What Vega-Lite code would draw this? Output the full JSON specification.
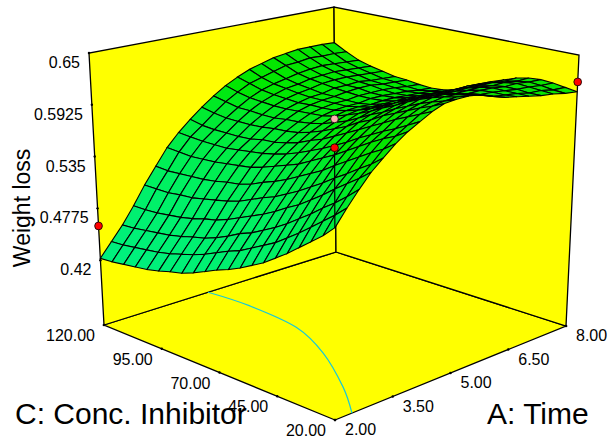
{"$schema":"https://vega.github.io/schema/vega-lite/v6.json","width":609,"height":441,"autosize":{"type":"fit","contains":"padding"},"padding":0,"background":"white","config":{"view":{"stroke":null}},
"data":{"values":[
{"kind":"wall","p":"a","o":0,"t":2,"c":20,"w":0.348},{"kind":"wall","p":"a","o":1,"t":2,"c":120,"w":0.348},{"kind":"wall","p":"a","o":2,"t":8,"c":120,"w":0.348},{"kind":"wall","p":"a","o":3,"t":8,"c":20,"w":0.348},{"kind":"wall","p":"a","o":4,"t":2,"c":20,"w":0.348},
{"kind":"wall","p":"b","o":0,"t":2,"c":120,"w":0.348},{"kind":"wall","p":"b","o":1,"t":8,"c":120,"w":0.348},{"kind":"wall","p":"b","o":2,"t":8,"c":120,"w":0.65},{"kind":"wall","p":"b","o":3,"t":2,"c":120,"w":0.65},{"kind":"wall","p":"b","o":4,"t":2,"c":120,"w":0.348},
{"kind":"wall","p":"c","o":0,"t":8,"c":120,"w":0.348},{"kind":"wall","p":"c","o":1,"t":8,"c":20,"w":0.348},{"kind":"wall","p":"c","o":2,"t":8,"c":20,"w":0.65},{"kind":"wall","p":"c","o":3,"t":8,"c":120,"w":0.65},{"kind":"wall","p":"c","o":4,"t":8,"c":120,"w":0.348},
{"kind":"contour","t":4.69,"c":120,"w":0.348},{"kind":"contour","t":4.76,"c":103,"w":0.348},{"kind":"contour","t":4.61,"c":80.4,"w":0.348},{"kind":"contour","t":4.06,"c":59.5,"w":0.348},{"kind":"contour","t":3.17,"c":36,"w":0.348},{"kind":"contour","t":2.44,"c":20,"w":0.348},
{"kind":"conc","t":2,"c":120,"w":0.348,"label":"120.00"},{"kind":"conc","t":2,"c":95,"w":0.348,"label":"95.00"},{"kind":"conc","t":2,"c":70,"w":0.348,"label":"70.00"},{"kind":"conc","t":2,"c":45,"w":0.348,"label":"45.00"},{"kind":"conc","t":2,"c":20,"w":0.348,"label":"20.00"},
{"kind":"time","t":2,"c":20,"w":0.348,"label":"2.00"},{"kind":"time","t":3.5,"c":20,"w":0.348,"label":"3.50"},{"kind":"time","t":5,"c":20,"w":0.348,"label":"5.00"},{"kind":"time","t":6.5,"c":20,"w":0.348,"label":"6.50"},{"kind":"time","t":8,"c":20,"w":0.348,"label":"8.00"},
{"kind":"loss","t":2,"c":120,"w":0.42,"label":"0.42"},{"kind":"loss","t":2,"c":120,"w":0.4775,"label":"0.4775"},{"kind":"loss","t":2,"c":120,"w":0.535,"label":"0.535"},{"kind":"loss","t":2,"c":120,"w":0.5925,"label":"0.5925"},{"kind":"loss","t":2,"c":120,"w":0.65,"label":"0.65"},
{"kind":"stem","t":5,"c":70,"w":0.551},{"kind":"stem","t":5,"c":70,"w":0.462},
{"kind":"design","tone":"low","t":5,"c":70,"w":0.551},{"kind":"design","tone":"high","t":5,"c":70,"w":0.583},{"kind":"design","tone":"low","t":2,"c":120,"w":0.458},{"kind":"design","tone":"low","t":8,"c":20,"w":0.62},
{"kind":"titlec","t":2,"c":120,"w":0.348,"label":"C: Conc. Inhibitor"},{"kind":"titlet","t":8,"c":20,"w":0.348,"label":"A: Time"},{"kind":"titlew","t":2,"c":120,"w":0.478,"label":"Weight loss"},
{"t":8,"c":120,"w":0.606},{"t":8,"c":115,"w":0.598},{"t":8,"c":110,"w":0.591},{"t":8,"c":105,"w":0.587},{"t":8,"c":100,"w":0.584},{"t":8,"c":95,"w":0.581},{"t":8,"c":90,"w":0.58},{"t":8,"c":85,"w":0.578},{"t":8,"c":80,"w":0.577},{"t":8,"c":75,"w":0.578},{"t":8,"c":70,"w":0.581},{"t":8,"c":65,"w":0.586},{"t":8,"c":60,"w":0.593},{"t":8,"c":55,"w":0.6},{"t":8,"c":50,"w":0.605},{"t":8,"c":45,"w":0.61},{"t":8,"c":40,"w":0.613},{"t":8,"c":35,"w":0.614},{"t":8,"c":30,"w":0.613},{"t":8,"c":25,"w":0.611},{"t":8,"c":20,"w":0.609},
{"t":7.7,"c":120,"w":0.607},{"t":7.7,"c":115,"w":0.599},{"t":7.7,"c":110,"w":0.592},{"t":7.7,"c":105,"w":0.588},{"t":7.7,"c":100,"w":0.585},{"t":7.7,"c":95,"w":0.582},{"t":7.7,"c":90,"w":0.581},{"t":7.7,"c":85,"w":0.579},{"t":7.7,"c":80,"w":0.578},{"t":7.7,"c":75,"w":0.58},{"t":7.7,"c":70,"w":0.582},{"t":7.7,"c":65,"w":0.587},{"t":7.7,"c":60,"w":0.594},{"t":7.7,"c":55,"w":0.601},{"t":7.7,"c":50,"w":0.605},{"t":7.7,"c":45,"w":0.61},{"t":7.7,"c":40,"w":0.613},{"t":7.7,"c":35,"w":0.615},{"t":7.7,"c":30,"w":0.614},{"t":7.7,"c":25,"w":0.612},{"t":7.7,"c":20,"w":0.611},
{"t":7.4,"c":120,"w":0.607},{"t":7.4,"c":115,"w":0.599},{"t":7.4,"c":110,"w":0.593},{"t":7.4,"c":105,"w":0.589},{"t":7.4,"c":100,"w":0.586},{"t":7.4,"c":95,"w":0.583},{"t":7.4,"c":90,"w":0.582},{"t":7.4,"c":85,"w":0.581},{"t":7.4,"c":80,"w":0.58},{"t":7.4,"c":75,"w":0.581},{"t":7.4,"c":70,"w":0.584},{"t":7.4,"c":65,"w":0.589},{"t":7.4,"c":60,"w":0.595},{"t":7.4,"c":55,"w":0.602},{"t":7.4,"c":50,"w":0.607},{"t":7.4,"c":45,"w":0.612},{"t":7.4,"c":40,"w":0.615},{"t":7.4,"c":35,"w":0.617},{"t":7.4,"c":30,"w":0.616},{"t":7.4,"c":25,"w":0.615},{"t":7.4,"c":20,"w":0.614},
{"t":7.1,"c":120,"w":0.607},{"t":7.1,"c":115,"w":0.6},{"t":7.1,"c":110,"w":0.594},{"t":7.1,"c":105,"w":0.59},{"t":7.1,"c":100,"w":0.587},{"t":7.1,"c":95,"w":0.585},{"t":7.1,"c":90,"w":0.584},{"t":7.1,"c":85,"w":0.582},{"t":7.1,"c":80,"w":0.581},{"t":7.1,"c":75,"w":0.582},{"t":7.1,"c":70,"w":0.585},{"t":7.1,"c":65,"w":0.59},{"t":7.1,"c":60,"w":0.596},{"t":7.1,"c":55,"w":0.602},{"t":7.1,"c":50,"w":0.607},{"t":7.1,"c":45,"w":0.612},{"t":7.1,"c":40,"w":0.615},{"t":7.1,"c":35,"w":0.617},{"t":7.1,"c":30,"w":0.617},{"t":7.1,"c":25,"w":0.616},{"t":7.1,"c":20,"w":0.616},
{"t":6.8,"c":120,"w":0.605},{"t":6.8,"c":115,"w":0.598},{"t":6.8,"c":110,"w":0.593},{"t":6.8,"c":105,"w":0.589},{"t":6.8,"c":100,"w":0.587},{"t":6.8,"c":95,"w":0.584},{"t":6.8,"c":90,"w":0.584},{"t":6.8,"c":85,"w":0.582},{"t":6.8,"c":80,"w":0.582},{"t":6.8,"c":75,"w":0.583},{"t":6.8,"c":70,"w":0.586},{"t":6.8,"c":65,"w":0.59},{"t":6.8,"c":60,"w":0.597},{"t":6.8,"c":55,"w":0.603},{"t":6.8,"c":50,"w":0.608},{"t":6.8,"c":45,"w":0.613},{"t":6.8,"c":40,"w":0.617},{"t":6.8,"c":35,"w":0.619},{"t":6.8,"c":30,"w":0.619},{"t":6.8,"c":25,"w":0.619},{"t":6.8,"c":20,"w":0.619},
{"t":6.5,"c":120,"w":0.603},{"t":6.5,"c":115,"w":0.597},{"t":6.5,"c":110,"w":0.591},{"t":6.5,"c":105,"w":0.588},{"t":6.5,"c":100,"w":0.586},{"t":6.5,"c":95,"w":0.584},{"t":6.5,"c":90,"w":0.583},{"t":6.5,"c":85,"w":0.582},{"t":6.5,"c":80,"w":0.582},{"t":6.5,"c":75,"w":0.583},{"t":6.5,"c":70,"w":0.586},{"t":6.5,"c":65,"w":0.591},{"t":6.5,"c":60,"w":0.597},{"t":6.5,"c":55,"w":0.603},{"t":6.5,"c":50,"w":0.608},{"t":6.5,"c":45,"w":0.613},{"t":6.5,"c":40,"w":0.617},{"t":6.5,"c":35,"w":0.62},{"t":6.5,"c":30,"w":0.621},{"t":6.5,"c":25,"w":0.621},{"t":6.5,"c":20,"w":0.622},
{"t":6.2,"c":120,"w":0.599},{"t":6.2,"c":115,"w":0.593},{"t":6.2,"c":110,"w":0.588},{"t":6.2,"c":105,"w":0.585},{"t":6.2,"c":100,"w":0.583},{"t":6.2,"c":95,"w":0.581},{"t":6.2,"c":90,"w":0.581},{"t":6.2,"c":85,"w":0.58},{"t":6.2,"c":80,"w":0.58},{"t":6.2,"c":75,"w":0.582},{"t":6.2,"c":70,"w":0.586},{"t":6.2,"c":65,"w":0.59},{"t":6.2,"c":60,"w":0.596},{"t":6.2,"c":55,"w":0.602},{"t":6.2,"c":50,"w":0.607},{"t":6.2,"c":45,"w":0.613},{"t":6.2,"c":40,"w":0.617},{"t":6.2,"c":35,"w":0.62},{"t":6.2,"c":30,"w":0.622},{"t":6.2,"c":25,"w":0.623},{"t":6.2,"c":20,"w":0.625},
{"t":5.9,"c":120,"w":0.595},{"t":5.9,"c":115,"w":0.589},{"t":5.9,"c":110,"w":0.585},{"t":5.9,"c":105,"w":0.583},{"t":5.9,"c":100,"w":0.581},{"t":5.9,"c":95,"w":0.58},{"t":5.9,"c":90,"w":0.58},{"t":5.9,"c":85,"w":0.58},{"t":5.9,"c":80,"w":0.58},{"t":5.9,"c":75,"w":0.583},{"t":5.9,"c":70,"w":0.586},{"t":5.9,"c":65,"w":0.591},{"t":5.9,"c":60,"w":0.597},{"t":5.9,"c":55,"w":0.604},{"t":5.9,"c":50,"w":0.609},{"t":5.9,"c":45,"w":0.615},{"t":5.9,"c":40,"w":0.62},{"t":5.9,"c":35,"w":0.623},{"t":5.9,"c":30,"w":0.626},{"t":5.9,"c":25,"w":0.628},{"t":5.9,"c":20,"w":0.63},
{"t":5.6,"c":120,"w":0.589},{"t":5.6,"c":115,"w":0.585},{"t":5.6,"c":110,"w":0.581},{"t":5.6,"c":105,"w":0.579},{"t":5.6,"c":100,"w":0.578},{"t":5.6,"c":95,"w":0.577},{"t":5.6,"c":90,"w":0.578},{"t":5.6,"c":85,"w":0.578},{"t":5.6,"c":80,"w":0.579},{"t":5.6,"c":75,"w":0.582},{"t":5.6,"c":70,"w":0.586},{"t":5.6,"c":65,"w":0.591},{"t":5.6,"c":60,"w":0.597},{"t":5.6,"c":55,"w":0.604},{"t":5.6,"c":50,"w":0.61},{"t":5.6,"c":45,"w":0.616},{"t":5.6,"c":40,"w":0.621},{"t":5.6,"c":35,"w":0.626},{"t":5.6,"c":30,"w":0.629},{"t":5.6,"c":25,"w":0.631},{"t":5.6,"c":20,"w":0.635},
{"t":5.3,"c":120,"w":0.582},{"t":5.3,"c":115,"w":0.578},{"t":5.3,"c":110,"w":0.575},{"t":5.3,"c":105,"w":0.574},{"t":5.3,"c":100,"w":0.573},{"t":5.3,"c":95,"w":0.573},{"t":5.3,"c":90,"w":0.574},{"t":5.3,"c":85,"w":0.575},{"t":5.3,"c":80,"w":0.576},{"t":5.3,"c":75,"w":0.579},{"t":5.3,"c":70,"w":0.584},{"t":5.3,"c":65,"w":0.589},{"t":5.3,"c":60,"w":0.595},{"t":5.3,"c":55,"w":0.602},{"t":5.3,"c":50,"w":0.608},{"t":5.3,"c":45,"w":0.615},{"t":5.3,"c":40,"w":0.621},{"t":5.3,"c":35,"w":0.626},{"t":5.3,"c":30,"w":0.63},{"t":5.3,"c":25,"w":0.633},{"t":5.3,"c":20,"w":0.637},
{"t":5,"c":120,"w":0.573},{"t":5,"c":115,"w":0.57},{"t":5,"c":110,"w":0.567},{"t":5,"c":105,"w":0.567},{"t":5,"c":100,"w":0.566},{"t":5,"c":95,"w":0.566},{"t":5,"c":90,"w":0.568},{"t":5,"c":85,"w":0.569},{"t":5,"c":80,"w":0.571},{"t":5,"c":75,"w":0.574},{"t":5,"c":70,"w":0.579},{"t":5,"c":65,"w":0.584},{"t":5,"c":60,"w":0.591},{"t":5,"c":55,"w":0.598},{"t":5,"c":50,"w":0.604},{"t":5,"c":45,"w":0.611},{"t":5,"c":40,"w":0.617},{"t":5,"c":35,"w":0.623},{"t":5,"c":30,"w":0.628},{"t":5,"c":25,"w":0.632},{"t":5,"c":20,"w":0.637},
{"t":4.7,"c":120,"w":0.563},{"t":4.7,"c":115,"w":0.56},{"t":4.7,"c":110,"w":0.558},{"t":4.7,"c":105,"w":0.558},{"t":4.7,"c":100,"w":0.558},{"t":4.7,"c":95,"w":0.559},{"t":4.7,"c":90,"w":0.561},{"t":4.7,"c":85,"w":0.562},{"t":4.7,"c":80,"w":0.564},{"t":4.7,"c":75,"w":0.568},{"t":4.7,"c":70,"w":0.573},{"t":4.7,"c":65,"w":0.579},{"t":4.7,"c":60,"w":0.585},{"t":4.7,"c":55,"w":0.593},{"t":4.7,"c":50,"w":0.599},{"t":4.7,"c":45,"w":0.607},{"t":4.7,"c":40,"w":0.613},{"t":4.7,"c":35,"w":0.619},{"t":4.7,"c":30,"w":0.625},{"t":4.7,"c":25,"w":0.63},{"t":4.7,"c":20,"w":0.636},
{"t":4.4,"c":120,"w":0.552},{"t":4.4,"c":115,"w":0.549},{"t":4.4,"c":110,"w":0.548},{"t":4.4,"c":105,"w":0.548},{"t":4.4,"c":100,"w":0.548},{"t":4.4,"c":95,"w":0.549},{"t":4.4,"c":90,"w":0.552},{"t":4.4,"c":85,"w":0.553},{"t":4.4,"c":80,"w":0.556},{"t":4.4,"c":75,"w":0.56},{"t":4.4,"c":70,"w":0.566},{"t":4.4,"c":65,"w":0.571},{"t":4.4,"c":60,"w":0.578},{"t":4.4,"c":55,"w":0.585},{"t":4.4,"c":50,"w":0.592},{"t":4.4,"c":45,"w":0.599},{"t":4.4,"c":40,"w":0.606},{"t":4.4,"c":35,"w":0.613},{"t":4.4,"c":30,"w":0.619},{"t":4.4,"c":25,"w":0.625},{"t":4.4,"c":20,"w":0.631},
{"t":4.1,"c":120,"w":0.54},{"t":4.1,"c":115,"w":0.539},{"t":4.1,"c":110,"w":0.538},{"t":4.1,"c":105,"w":0.538},{"t":4.1,"c":100,"w":0.538},{"t":4.1,"c":95,"w":0.54},{"t":4.1,"c":90,"w":0.542},{"t":4.1,"c":85,"w":0.544},{"t":4.1,"c":80,"w":0.547},{"t":4.1,"c":75,"w":0.551},{"t":4.1,"c":70,"w":0.556},{"t":4.1,"c":65,"w":0.562},{"t":4.1,"c":60,"w":0.568},{"t":4.1,"c":55,"w":0.575},{"t":4.1,"c":50,"w":0.582},{"t":4.1,"c":45,"w":0.59},{"t":4.1,"c":40,"w":0.597},{"t":4.1,"c":35,"w":0.604},{"t":4.1,"c":30,"w":0.61},{"t":4.1,"c":25,"w":0.617},{"t":4.1,"c":20,"w":0.624},
{"t":3.8,"c":120,"w":0.526},{"t":3.8,"c":115,"w":0.525},{"t":3.8,"c":110,"w":0.524},{"t":3.8,"c":105,"w":0.525},{"t":3.8,"c":100,"w":0.526},{"t":3.8,"c":95,"w":0.528},{"t":3.8,"c":90,"w":0.53},{"t":3.8,"c":85,"w":0.532},{"t":3.8,"c":80,"w":0.536},{"t":3.8,"c":75,"w":0.541},{"t":3.8,"c":70,"w":0.546},{"t":3.8,"c":65,"w":0.551},{"t":3.8,"c":60,"w":0.558},{"t":3.8,"c":55,"w":0.565},{"t":3.8,"c":50,"w":0.572},{"t":3.8,"c":45,"w":0.58},{"t":3.8,"c":40,"w":0.588},{"t":3.8,"c":35,"w":0.596},{"t":3.8,"c":30,"w":0.603},{"t":3.8,"c":25,"w":0.609},{"t":3.8,"c":20,"w":0.617},
{"t":3.5,"c":120,"w":0.508},{"t":3.5,"c":115,"w":0.507},{"t":3.5,"c":110,"w":0.508},{"t":3.5,"c":105,"w":0.509},{"t":3.5,"c":100,"w":0.51},{"t":3.5,"c":95,"w":0.512},{"t":3.5,"c":90,"w":0.515},{"t":3.5,"c":85,"w":0.517},{"t":3.5,"c":80,"w":0.521},{"t":3.5,"c":75,"w":0.527},{"t":3.5,"c":70,"w":0.532},{"t":3.5,"c":65,"w":0.538},{"t":3.5,"c":60,"w":0.545},{"t":3.5,"c":55,"w":0.552},{"t":3.5,"c":50,"w":0.559},{"t":3.5,"c":45,"w":0.568},{"t":3.5,"c":40,"w":0.576},{"t":3.5,"c":35,"w":0.584},{"t":3.5,"c":30,"w":0.592},{"t":3.5,"c":25,"w":0.599},{"t":3.5,"c":20,"w":0.608},
{"t":3.2,"c":120,"w":0.49},{"t":3.2,"c":115,"w":0.49},{"t":3.2,"c":110,"w":0.49},{"t":3.2,"c":105,"w":0.492},{"t":3.2,"c":100,"w":0.493},{"t":3.2,"c":95,"w":0.496},{"t":3.2,"c":90,"w":0.499},{"t":3.2,"c":85,"w":0.502},{"t":3.2,"c":80,"w":0.506},{"t":3.2,"c":75,"w":0.512},{"t":3.2,"c":70,"w":0.518},{"t":3.2,"c":65,"w":0.523},{"t":3.2,"c":60,"w":0.53},{"t":3.2,"c":55,"w":0.537},{"t":3.2,"c":50,"w":0.545},{"t":3.2,"c":45,"w":0.553},{"t":3.2,"c":40,"w":0.562},{"t":3.2,"c":35,"w":0.57},{"t":3.2,"c":30,"w":0.579},{"t":3.2,"c":25,"w":0.587},{"t":3.2,"c":20,"w":0.597},
{"t":2.9,"c":120,"w":0.47},{"t":2.9,"c":115,"w":0.47},{"t":2.9,"c":110,"w":0.471},{"t":2.9,"c":105,"w":0.473},{"t":2.9,"c":100,"w":0.475},{"t":2.9,"c":95,"w":0.478},{"t":2.9,"c":90,"w":0.482},{"t":2.9,"c":85,"w":0.485},{"t":2.9,"c":80,"w":0.49},{"t":2.9,"c":75,"w":0.496},{"t":2.9,"c":70,"w":0.502},{"t":2.9,"c":65,"w":0.508},{"t":2.9,"c":60,"w":0.515},{"t":2.9,"c":55,"w":0.523},{"t":2.9,"c":50,"w":0.53},{"t":2.9,"c":45,"w":0.539},{"t":2.9,"c":40,"w":0.548},{"t":2.9,"c":35,"w":0.558},{"t":2.9,"c":30,"w":0.567},{"t":2.9,"c":25,"w":0.576},{"t":2.9,"c":20,"w":0.586},
{"t":2.6,"c":120,"w":0.452},{"t":2.6,"c":115,"w":0.453},{"t":2.6,"c":110,"w":0.455},{"t":2.6,"c":105,"w":0.457},{"t":2.6,"c":100,"w":0.459},{"t":2.6,"c":95,"w":0.462},{"t":2.6,"c":90,"w":0.466},{"t":2.6,"c":85,"w":0.469},{"t":2.6,"c":80,"w":0.474},{"t":2.6,"c":75,"w":0.48},{"t":2.6,"c":70,"w":0.487},{"t":2.6,"c":65,"w":0.492},{"t":2.6,"c":60,"w":0.499},{"t":2.6,"c":55,"w":0.506},{"t":2.6,"c":50,"w":0.514},{"t":2.6,"c":45,"w":0.523},{"t":2.6,"c":40,"w":0.532},{"t":2.6,"c":35,"w":0.542},{"t":2.6,"c":30,"w":0.551},{"t":2.6,"c":25,"w":0.561},{"t":2.6,"c":20,"w":0.572},
{"t":2.3,"c":120,"w":0.437},{"t":2.3,"c":115,"w":0.438},{"t":2.3,"c":110,"w":0.44},{"t":2.3,"c":105,"w":0.442},{"t":2.3,"c":100,"w":0.444},{"t":2.3,"c":95,"w":0.447},{"t":2.3,"c":90,"w":0.451},{"t":2.3,"c":85,"w":0.455},{"t":2.3,"c":80,"w":0.46},{"t":2.3,"c":75,"w":0.466},{"t":2.3,"c":70,"w":0.472},{"t":2.3,"c":65,"w":0.477},{"t":2.3,"c":60,"w":0.484},{"t":2.3,"c":55,"w":0.491},{"t":2.3,"c":50,"w":0.498},{"t":2.3,"c":45,"w":0.507},{"t":2.3,"c":40,"w":0.516},{"t":2.3,"c":35,"w":0.526},{"t":2.3,"c":30,"w":0.536},{"t":2.3,"c":25,"w":0.546},{"t":2.3,"c":20,"w":0.557},
{"t":2,"c":120,"w":0.422},{"t":2,"c":115,"w":0.423},{"t":2,"c":110,"w":0.425},{"t":2,"c":105,"w":0.427},{"t":2,"c":100,"w":0.429},{"t":2,"c":95,"w":0.432},{"t":2,"c":90,"w":0.436},{"t":2,"c":85,"w":0.439},{"t":2,"c":80,"w":0.444},{"t":2,"c":75,"w":0.45},{"t":2,"c":70,"w":0.456},{"t":2,"c":65,"w":0.461},{"t":2,"c":60,"w":0.467},{"t":2,"c":55,"w":0.474},{"t":2,"c":50,"w":0.481},{"t":2,"c":45,"w":0.49},{"t":2,"c":40,"w":0.499},{"t":2,"c":35,"w":0.509},{"t":2,"c":30,"w":0.519},{"t":2,"c":25,"w":0.529},{"t":2,"c":20,"w":0.541}
]},
"transform":[
{"calculate":"(datum.t-2)/6","as":"u"},{"calculate":"(datum.c-20)/100","as":"v"},{"calculate":"(datum.w-0.348)/0.302","as":"n"},
{"calculate":"(1-datum.u)*(1-datum.v)*(335+0*datum.n)+(1-datum.u)*datum.v*(104-15*datum.n)+datum.u*(1-datum.v)*(566+13*datum.n)+datum.u*datum.v*(336-2*datum.n)","as":"sx"},
{"calculate":"(1-datum.u)*(1-datum.v)*(420-301*datum.n)+(1-datum.u)*datum.v*(325-272*datum.n)+datum.u*(1-datum.v)*(326-271*datum.n)+datum.u*datum.v*(252-245*datum.n)","as":"sy"}
],
"encoding":{"x":{"field":"sx","type":"quantitative","scale":{"domain":[0,609],"zero":false,"nice":false},"axis":null},"y":{"field":"sy","type":"quantitative","scale":{"domain":[441,0],"zero":false,"nice":false},"axis":null}},
"layer":[
{"transform":[{"filter":"datum.kind==='wall'"}],"mark":{"type":"line","fill":"#ffff00","stroke":"#000000","strokeWidth":1.3,"clip":false},"encoding":{"detail":{"field":"p"},"order":{"field":"o"}}},
{"transform":[{"filter":"datum.kind==='contour'"}],"mark":{"type":"line","stroke":"#19c8d8","strokeWidth":1.2,"interpolate":"cardinal"}},
{"transform":[{"filter":"datum.kind==='conc'||datum.kind==='time'||datum.kind==='loss'"}],"mark":{"type":"point","filled":true,"color":"#000000","size":6,"opacity":1}},
{"transform":[{"filter":"!datum.kind"},{"calculate":"round((datum.t-2)/0.3)","as":"i"},{"calculate":"round((datum.c-20)/5)","as":"j"},{"calculate":"[0,1,2,3,4]","as":"k"},{"flatten":["k"]},{"calculate":"datum.i-((datum.k==1||datum.k==2)?1:0)","as":"ci"},{"calculate":"datum.j-((datum.k==2||datum.k==3)?1:0)","as":"cj"},{"filter":"datum.ci>=0&&datum.cj>=0&&datum.ci<20&&datum.cj<20"},{"calculate":"datum.ci*100+datum.cj","as":"cell"},{"joinaggregate":[{"op":"mean","field":"w","as":"cw"}],"groupby":["cell"]}],
"mark":{"type":"line","stroke":"#000000","strokeWidth":1.1},"encoding":{"detail":{"field":"cell","type":"nominal"},"order":{"field":"k"},"fill":{"field":"cw","type":"quantitative","legend":null,"scale":{"domain":[0.42,0.5,0.58,0.65],"range":["#00f080","#00f060","#00e800","#10e000"]}}}},
{"transform":[{"filter":"datum.kind==='stem'"}],"mark":{"type":"line","stroke":"#000000","strokeWidth":1.2}},
{"transform":[{"filter":"datum.kind==='design'"}],"mark":{"type":"point","filled":true,"size":60,"stroke":"#000000","strokeWidth":0.8,"opacity":1},"encoding":{"fill":{"field":"tone","type":"nominal","legend":null,"scale":{"domain":["low","high"],"range":["#ff0000","#ffb0b0"]}}}},
{"transform":[{"filter":"datum.kind==='conc'"}],"mark":{"type":"text","font":"Liberation Sans","fontSize":16,"align":"right","baseline":"middle","dx":-9,"dy":11,"color":"#000000"},"encoding":{"text":{"field":"label"}}},
{"transform":[{"filter":"datum.kind==='time'"}],"mark":{"type":"text","font":"Liberation Sans","fontSize":16,"align":"left","baseline":"middle","dx":10,"dy":10,"color":"#000000"},"encoding":{"text":{"field":"label"}}},
{"transform":[{"filter":"datum.kind==='loss'"}],"mark":{"type":"text","font":"Liberation Sans","fontSize":16,"align":"right","baseline":"middle","dx":-9,"dy":10,"color":"#000000"},"encoding":{"text":{"field":"label"}}},
{"transform":[{"filter":"datum.kind==='titlec'"}],"mark":{"type":"text","font":"Liberation Sans","fontSize":30,"align":"left","baseline":"middle","dx":-89,"dy":90,"color":"#000000"},"encoding":{"text":{"field":"label"}}},
{"transform":[{"filter":"datum.kind==='titlet'"}],"mark":{"type":"text","font":"Liberation Sans","fontSize":30,"align":"left","baseline":"middle","dx":-79,"dy":89,"color":"#000000"},"encoding":{"text":{"field":"label"}}},
{"transform":[{"filter":"datum.kind==='titlew'"}],"mark":{"type":"text","font":"Liberation Sans","fontSize":23,"align":"center","baseline":"middle","angle":270,"dx":0,"dy":-75,"color":"#000000"},"encoding":{"text":{"field":"label"}}}
]}
